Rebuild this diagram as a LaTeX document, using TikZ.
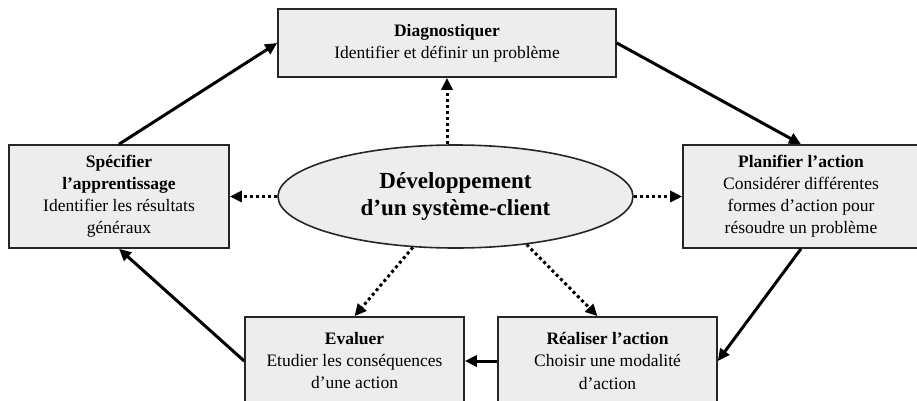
\documentclass[tikz,border=0pt]{standalone}
\usepackage{fontspec}
\setmainfont{Liberation Serif}
\usetikzlibrary{arrows.meta, shapes.geometric}

\begin{document}
\begin{tikzpicture}[x=1pt, y=1pt,
        box/.style={draw=black!85, line width=1.6pt, fill=black!7, align=center, inner sep=0pt,
            font=\fontsize{17.5}{22}\selectfont},
        core/.style={ellipse, draw=black!85, line width=1.6pt, fill=black!7, align=center, inner sep=0pt,
            minimum width=355pt, minimum height=103pt, font=\fontsize{23}{27.5}\selectfont\bfseries},
        flow/.style={line width=3pt, -{Triangle[length=12pt, width=11pt]}},
        link/.style={line width=3pt, dash pattern=on 3pt off 3pt, -{Triangle[length=12pt, width=11pt]}}]
            \useasboundingbox (0, 0) rectangle (917, 400);
            \clip (0, 0) rectangle (917, 400);

            \node[box, minimum width=338pt, minimum height=68pt] (diag) at (447, 357) {\textbf{Diagnostiquer}\\Identifier et définir un problème};
            \node[box, minimum width=220pt, minimum height=103pt] (spec) at (119, 203.5) {\textbf{Spécifier}\\\textbf{l'apprentissage}\\Identifier les résultats\\généraux};
            \node[box, minimum width=236pt, minimum height=103pt] (plan) at (801, 203.5) {\textbf{Planifier l'action}\\Considérer différentes\\formes d'action pour\\résoudre un problème};
            \node[box, minimum width=219pt, minimum height=88pt] (eval) at (354.5, 39) {\textbf{Evaluer}\\Etudier les conséquences\\d'une action};
            \node[box, minimum width=219pt, minimum height=88pt] (real) at (607.5, 39) {\textbf{Réaliser l'action}\\Choisir une modalité\\d'action};
            \node[core] (dev) at (455.5, 203.5) {Développement\\d'un système-client};

            % cycle
            \path[flow] (spec.north) edge (diag.west);
            \path[flow] (diag.east) edge (plan.north);
            \path[flow] (plan.south) edge (real.east);
            \path[flow] (real.west) edge (eval.east);
            \path[flow] (eval.west) edge (spec.south);

            % from the centre
            \path[link] (dev.north -| diag.south) edge (diag.south);
            \path[link] (dev.west) edge (spec.east);
            \path[link] (dev.east) edge (plan.west);
            \path[link] (dev.230) edge (eval.north);
            \path[link] (dev.326) edge ([xshift=-10pt]real.north);

        \end{tikzpicture}
\end{document}
